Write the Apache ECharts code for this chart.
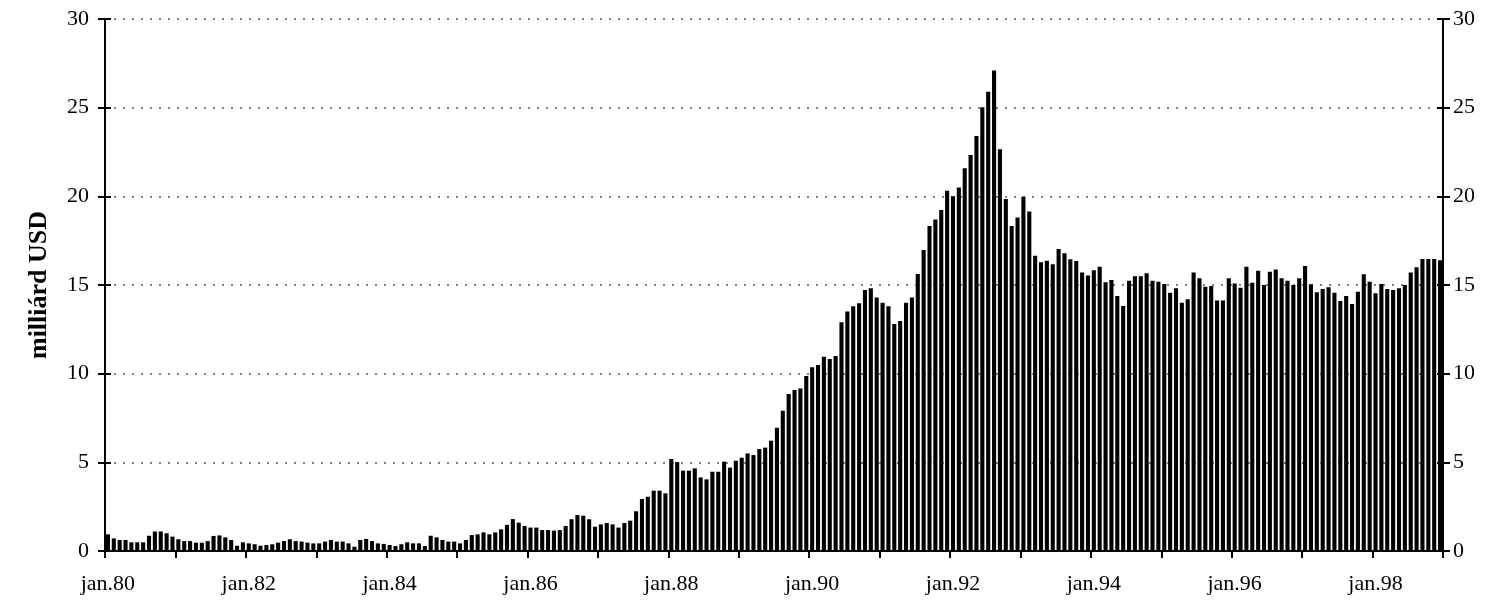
<!DOCTYPE html>
<html>
<head>
<meta charset="utf-8">
<script src="https://cdn.jsdelivr.net/npm/echarts@6/dist/echarts.min.js"></script>
<style>
  html, body { margin: 0; padding: 0; background: #fff; }
  #chart { width: 1494px; height: 609px; }
</style>
</head>
<body>
<div id="chart"></div>
<script>
// évek és hónapok (kategóriák)
var years = ['80', '81', '82', '83', '84', '85', '86', '87', '88', '89', '90', '91', '92', '93', '94', '95', '96', '97', '98']
var months = ['jan.', 'febr.', 'márc.', 'ápr.', 'máj.', 'jún.', 'júl.', 'aug.', 'szept.', 'okt.', 'nov.', 'dec.']
var yTicks = [0, 5, 10, 15, 20, 25, 30]

// havi értékek, milliárd USD
var values80s = [
  0.94, 0.71, 0.62, 0.62, 0.49, 0.49, 0.49, 0.86, 1.10, 1.10, 1.00, 0.81, // 1980
  0.66, 0.56, 0.56, 0.47, 0.47, 0.56, 0.85, 0.88, 0.77, 0.62, 0.30, 0.49, // 1981
  0.43, 0.38, 0.30, 0.34, 0.38, 0.47, 0.56, 0.66, 0.56, 0.53, 0.47, 0.43, // 1982
  0.43, 0.53, 0.62, 0.53, 0.53, 0.43, 0.24, 0.62, 0.68, 0.56, 0.43, 0.40, // 1983
  0.34, 0.28, 0.38, 0.49, 0.43, 0.43, 0.28, 0.86, 0.77, 0.62, 0.53, 0.53, // 1984
  0.43, 0.62, 0.90, 0.94, 1.05, 0.94, 1.05, 1.22, 1.47, 1.80, 1.60, 1.41, // 1985
  1.32, 1.32, 1.18, 1.18, 1.15, 1.18, 1.41, 1.79, 2.03, 1.99, 1.79, 1.37, // 1986
  1.50, 1.58, 1.50, 1.32, 1.58, 1.71, 2.24, 2.93, 3.06, 3.40, 3.40, 3.25, // 1987
  5.19, 5.02, 4.53, 4.53, 4.66, 4.15, 4.04, 4.47, 4.47, 5.04, 4.70, 5.09, // 1988
  5.26, 5.50, 5.41, 5.75, 5.83, 6.22, 6.95, 7.91, 8.85, 9.08, 9.17, 9.87  // 1989
]
var values90s = [
  10.36, 10.49, 10.96, 10.83, 11.00, 12.90, 13.50, 13.80, 13.97, 14.72, 14.81, 14.30, // 1990
  14.00, 13.80, 12.80, 12.97, 14.00, 14.30, 15.62, 16.97, 18.33, 18.70, 19.23, 20.32, // 1991
  20.00, 20.50, 21.58, 22.33, 23.40, 25.02, 25.90, 27.09, 22.65, 19.85, 18.33, 18.80, // 1992
  19.98, 19.14, 16.65, 16.28, 16.37, 16.17, 17.03, 16.79, 16.45, 16.35, 15.70, 15.53, // 1993
  15.83, 16.03, 15.15, 15.28, 14.38, 13.82, 15.24, 15.50, 15.50, 15.66, 15.24, 15.19, // 1994
  15.06, 14.57, 14.81, 14.00, 14.19, 15.70, 15.38, 14.90, 14.94, 14.12, 14.12, 15.38, // 1995
  15.09, 14.85, 16.03, 15.13, 15.81, 15.00, 15.75, 15.88, 15.38, 15.24, 15.00, 15.38, // 1996
  16.07, 15.04, 14.59, 14.77, 14.87, 14.57, 14.10, 14.38, 13.93, 14.62, 15.60, 15.19, // 1997
  14.53, 15.06, 14.77, 14.72, 14.81, 15.00, 15.70, 16.00, 16.47, 16.47, 16.47, 16.40  // 1998
]

var categories = []
years.forEach(function (y) {
  months.forEach(function (m) { categories.push(m + y) })
})
var values = values80s.concat(values90s)

var FONT = 'Liberation Serif'
var yMin = yTicks[0]
var yMax = yTicks[yTicks.length - 1]
var yStep = yTicks[1] - yTicks[0]

function valueAxis (pos, opts) {
  return Object.assign({
    type: 'value',
    position: pos,
    min: yMin,
    max: yMax,
    interval: yStep,
    axisLine: { show: true, lineStyle: { color: '#000', width: 2 } },
    axisTick: { show: true, length: 7, lineStyle: { color: '#000', width: 2 } },
    axisLabel: { show: false },
    splitLine: { show: false }
  }, opts)
}

var chart = echarts.init(document.getElementById('chart'), null, { renderer: 'canvas' })
chart.setOption({
  animation: false,
  backgroundColor: '#fff',
  grid: { left: 105, right: 51, top: 19, bottom: 58, containLabel: false },
  xAxis: [{
    type: 'category',
    data: categories,
    boundaryGap: true,
    axisLine: { show: true, onZero: false, lineStyle: { color: '#000', width: 2 } },
    axisTick: { show: true, interval: 11, length: 7, lineStyle: { color: '#000', width: 2 } },
    axisLabel: {
      interval: 23,
      margin: 22,
      color: '#000',
      fontFamily: FONT,
      fontSize: 22
    },
    splitLine: { show: false }
  }],
  yAxis: [
    valueAxis('left', {
      name: 'milliárd USD',
      nameLocation: 'middle',
      nameGap: 53,
      nameTextStyle: { color: '#000', fontFamily: FONT, fontSize: 26, fontWeight: 'bold' },
      axisLabel: { show: true, margin: 16, color: '#000', fontFamily: FONT, fontSize: 22 },
      splitLine: { show: true, lineStyle: { color: '#555', width: 1.5, type: [2, 7] } }
    }),
    valueAxis('right', {
      axisLabel: { show: true, margin: 10, color: '#000', fontFamily: FONT, fontSize: 22 }
    }),
    valueAxis('left', { axisTick: { show: true, inside: true, length: 6, lineStyle: { color: '#000', width: 2 } } }),
    valueAxis('right', { axisTick: { show: true, inside: true, length: 6, lineStyle: { color: '#000', width: 2 } } })
  ],
  series: [{
    type: 'bar',
    data: values,
    yAxisIndex: 0,
    barCategoryGap: '30%',
    itemStyle: { color: '#000' },
    silent: true
  }]
})
</script>
</body>
</html>
